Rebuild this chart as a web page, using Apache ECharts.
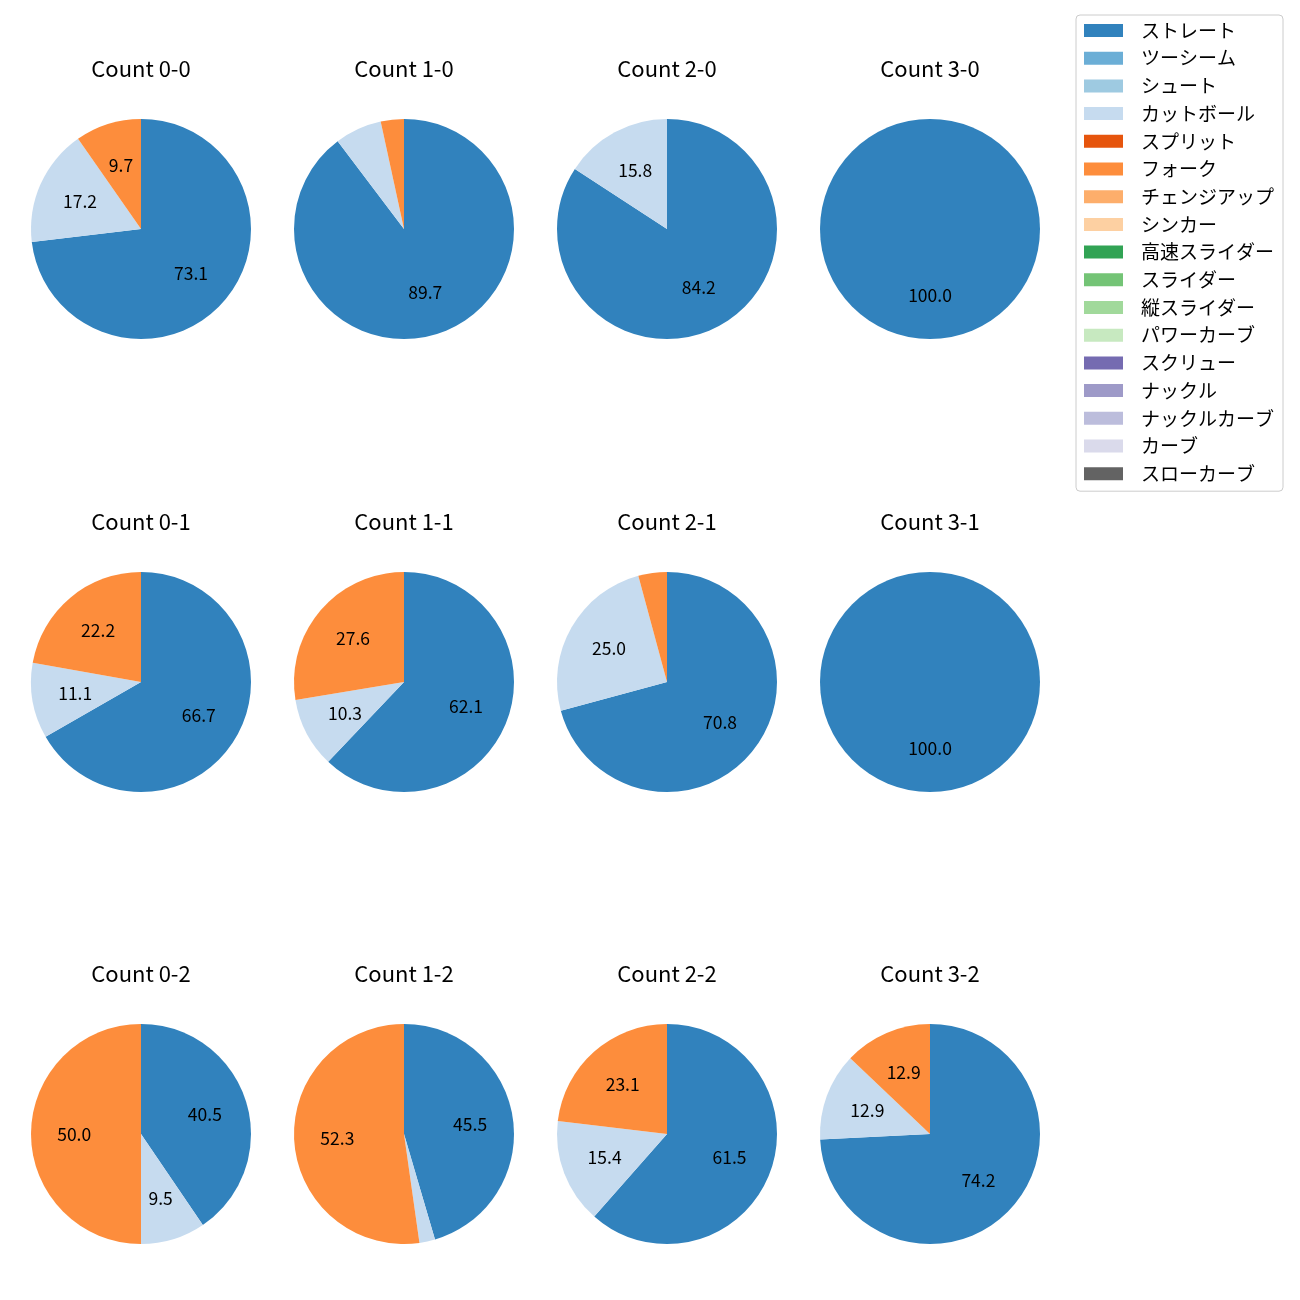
<!DOCTYPE html>
<html>
<head>
<meta charset="utf-8">
<script src="https://cdn.jsdelivr.net/npm/echarts@6/dist/echarts.min.js"></script>
<style>
html,body{margin:0;padding:0;background:#fff;}
#chart{width:1300px;height:1300px;}
</style>
</head>
<body>
<div id="chart"></div>
<script>
// Pitch types (legend order)
const pitchTypes = ['ストレート','ツーシーム','シュート','カットボール','スプリット','フォーク','チェンジアップ','シンカー','高速スライダー','スライダー','縦スライダー','パワーカーブ','スクリュー','ナックル','ナックルカーブ','カーブ','スローカーブ'];
const pitchColors = ['#3182bd','#6baed6','#9ecae1','#c6dbef','#e6550d','#fd8d3c','#fdae6b','#fdd0a2','#31a354','#74c476','#a1d99b','#c7e9c0','#756bb1','#9e9ac8','#bcbddc','#dadaeb','#636363'];

// Counts (panel order: row by row)
const counts = ['0-0','1-0','2-0','3-0','0-1','1-1','2-1','3-1','0-2','1-2','2-2','3-2'];

// Percentages per pitch type for each count
const straight = [73.1, 89.7, 84.2, 100.0, 66.7, 62.1, 70.8, 100.0, 40.5, 45.5, 61.5, 74.2];
const cutter   = [17.2,  6.9, 15.8,   0.0, 11.1, 10.3, 25.0,   0.0,  9.5,  2.3, 15.4, 12.9];
const fork     = [ 9.7,  3.4,  0.0,   0.0, 22.2, 27.6,  4.2,   0.0, 50.0, 52.3, 23.1, 12.9];

const valuesByType = { 'ストレート': straight, 'カットボール': cutter, 'フォーク': fork };

const FONT = '"Noto Sans CJK JP", "Noto Sans", sans-serif';
const colX = [141, 404, 667, 930];
const rowY = [229, 682, 1134];
const titleTop = [58, 511, 963];
const R = 110;

const titles = [];
const series = [];
counts.forEach(function (c, i) {
  const row = Math.floor(i / 4), col = i % 4;
  titles.push({
    text: 'Count ' + c,
    left: colX[col], top: titleTop[row], textAlign: 'center', padding: 0,
    textStyle: { fontFamily: FONT, fontSize: 22, fontWeight: 'normal', color: '#000' }
  });
  const data = pitchTypes.map(function (name, k) {
    const arr = valuesByType[name];
    return { name: name, value: arr ? arr[i] : 0, itemStyle: { color: pitchColors[k] } };
  });
  series.push({
    type: 'pie', center: [colX[col], rowY[row]], radius: [0, R],
    startAngle: 90, clockwise: true, silent: true, animation: false,
    avoidLabelOverlap: false, label: { show: false }, labelLine: { show: false },
    itemStyle: { borderWidth: 0 }, emphasis: { disabled: true },
    data: data
  });
});
// label overlays: ring whose mid-radius sits near 0.6 R (matplotlib pctdistance)
counts.forEach(function (c, i) {
  const row = Math.floor(i / 4), col = i % 4;
  const data = pitchTypes.map(function (name) {
    const arr = valuesByType[name];
    return { name: name, value: arr ? arr[i] : 0 };
  });
  series.push({
    type: 'pie', center: [colX[col], rowY[row]], radius: [0.16 * R, R],
    startAngle: 90, clockwise: true, silent: true, animation: false,
    avoidLabelOverlap: false,
    itemStyle: { color: 'rgba(0,0,0,0)', borderWidth: 0 },
    emphasis: { disabled: true },
    label: {
      show: true, position: 'inside', fontFamily: FONT, fontSize: 17.5, color: '#000',
      formatter: function (p) { return p.value >= 9 ? p.value.toFixed(1) : ''; }
    },
    labelLine: { show: false },
    data: data
  });
});

const chart = echarts.init(document.getElementById('chart'), null, { renderer: 'canvas' });
chart.setOption({
  backgroundColor: '#fff',
  animation: false,
  title: titles,
  legend: {
    orient: 'vertical', left: 1076, top: 15,
    data: pitchTypes,
    itemWidth: 39, itemHeight: 13, itemGap: 8.7,
    icon: 'rect',
    padding: [6, 9, 8, 8],
    borderColor: '#cccccc', borderWidth: 1, borderRadius: 4,
    backgroundColor: 'rgba(255,255,255,0.8)',
    selectedMode: false,
    textStyle: { fontFamily: FONT, fontSize: 19, color: '#000', lineHeight: 18, padding: [0, 0, 0, 13] }
  },
  series: series
});
</script>
</body>
</html>
